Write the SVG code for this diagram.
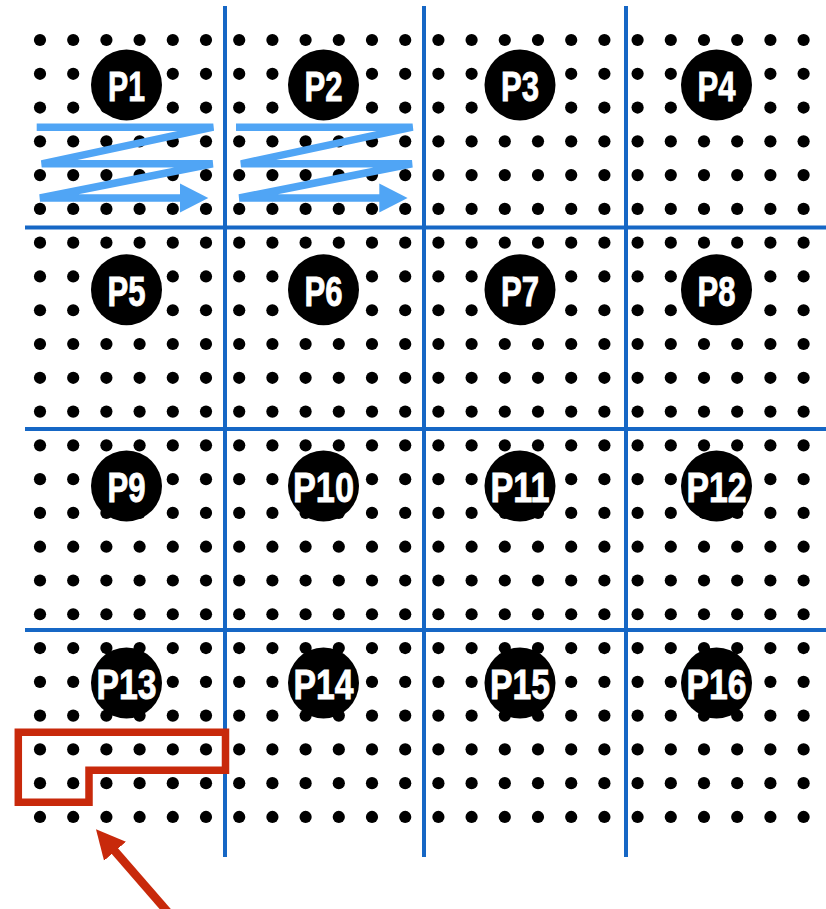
<svg xmlns="http://www.w3.org/2000/svg" xmlns:xlink="http://www.w3.org/1999/xlink" width="826" height="909" viewBox="0 0 826 909">
<style>
.dot{fill:#000}
.grid{stroke:#1667c5;stroke-width:4;fill:none}
.lbl circle{fill:#000}
.lbl text{fill:#fff;stroke:#fff;stroke-width:0.9;font-family:"Liberation Sans",Arial,sans-serif;font-weight:bold;font-size:42px;text-anchor:middle}
.zig{fill:none;stroke:#50a5f5;stroke-width:7.5;stroke-linejoin:miter;stroke-linecap:butt;marker-end:url(#blueHead)}
.red{fill:none;stroke:#c8290b;stroke-width:7.5;stroke-linejoin:miter}
.redArrow{stroke:#c8290b;stroke-width:8.5;marker-end:url(#redHead)}
</style>
<defs>
<marker id="blueHead" viewBox="0 -15 30 30" markerWidth="30" markerHeight="30" refX="2" refY="0" orient="auto" markerUnits="userSpaceOnUse">
<path d="M0,-14.5 L28.3,0 L0,14.5 Z" fill="#50a5f5"/>
</marker>
<marker id="redHead" viewBox="0 -15 30 30" markerWidth="30" markerHeight="30" refX="2" refY="0" orient="auto" markerUnits="userSpaceOnUse">
<path d="M0,-14.5 L29,0 L0,14.5 Z" fill="#c8290b"/>
</marker>
<g id="row" class="dot">
<circle cx="40" cy="0" r="6.1"/><circle cx="73.2" cy="0" r="6.1"/><circle cx="106.4" cy="0" r="6.1"/><circle cx="139.6" cy="0" r="6.1"/><circle cx="172.8" cy="0" r="6.1"/><circle cx="206" cy="0" r="6.1"/>
<circle cx="239.2" cy="0" r="6.1"/><circle cx="272.4" cy="0" r="6.1"/><circle cx="305.6" cy="0" r="6.1"/><circle cx="338.8" cy="0" r="6.1"/><circle cx="372" cy="0" r="6.1"/><circle cx="405.2" cy="0" r="6.1"/>
<circle cx="438.4" cy="0" r="6.1"/><circle cx="471.6" cy="0" r="6.1"/><circle cx="504.8" cy="0" r="6.1"/><circle cx="538" cy="0" r="6.1"/><circle cx="571.2" cy="0" r="6.1"/><circle cx="604.4" cy="0" r="6.1"/>
<circle cx="637.6" cy="0" r="6.1"/><circle cx="670.8" cy="0" r="6.1"/><circle cx="704" cy="0" r="6.1"/><circle cx="737.2" cy="0" r="6.1"/><circle cx="770.4" cy="0" r="6.1"/><circle cx="803.6" cy="0" r="6.1"/>
</g>
</defs>
<rect width="826" height="909" fill="#fff"/>
<g id="dots">
<use xlink:href="#row" y="40"/><use xlink:href="#row" y="73.78"/><use xlink:href="#row" y="107.56"/><use xlink:href="#row" y="141.34"/><use xlink:href="#row" y="175.12"/><use xlink:href="#row" y="208.9"/>
<use xlink:href="#row" y="242.68"/><use xlink:href="#row" y="276.46"/><use xlink:href="#row" y="310.24"/><use xlink:href="#row" y="344.02"/><use xlink:href="#row" y="377.8"/><use xlink:href="#row" y="411.58"/>
<use xlink:href="#row" y="445.36"/><use xlink:href="#row" y="479.14"/><use xlink:href="#row" y="512.92"/><use xlink:href="#row" y="546.7"/><use xlink:href="#row" y="580.48"/><use xlink:href="#row" y="614.26"/>
<use xlink:href="#row" y="648.04"/><use xlink:href="#row" y="681.82"/><use xlink:href="#row" y="715.6"/><use xlink:href="#row" y="749.38"/><use xlink:href="#row" y="783.16"/><use xlink:href="#row" y="816.94"/>
</g>
<g id="gridlines" class="grid">
<line x1="225" y1="6" x2="225" y2="857"/>
<line x1="424" y1="6" x2="424" y2="857"/>
<line x1="626" y1="6" x2="626" y2="857"/>
<line x1="25" y1="227.5" x2="826" y2="227.5"/>
<line x1="25" y1="429" x2="826" y2="429"/>
<line x1="25" y1="630" x2="826" y2="630"/>
</g>
<g id="P1" class="lbl"><circle cx="126.5" cy="85" r="35.5"/><text x="126.5" y="101" textLength="37" lengthAdjust="spacingAndGlyphs">P1</text></g>
<g id="P2" class="lbl"><circle cx="323.5" cy="85" r="35.5"/><text x="323.5" y="101" textLength="38" lengthAdjust="spacingAndGlyphs">P2</text></g>
<g id="P3" class="lbl"><circle cx="520" cy="85" r="35.5"/><text x="520" y="101" textLength="38" lengthAdjust="spacingAndGlyphs">P3</text></g>
<g id="P4" class="lbl"><circle cx="716.5" cy="85" r="35.5"/><text x="716.5" y="101" textLength="38" lengthAdjust="spacingAndGlyphs">P4</text></g>
<g id="P5" class="lbl"><circle cx="126.5" cy="289.7" r="35.5"/><text x="126.5" y="305.7" textLength="38" lengthAdjust="spacingAndGlyphs">P5</text></g>
<g id="P6" class="lbl"><circle cx="323.5" cy="289.7" r="35.5"/><text x="323.5" y="305.7" textLength="38" lengthAdjust="spacingAndGlyphs">P6</text></g>
<g id="P7" class="lbl"><circle cx="520" cy="289.7" r="35.5"/><text x="520" y="305.7" textLength="38" lengthAdjust="spacingAndGlyphs">P7</text></g>
<g id="P8" class="lbl"><circle cx="716.5" cy="289.7" r="35.5"/><text x="716.5" y="305.7" textLength="38" lengthAdjust="spacingAndGlyphs">P8</text></g>
<g id="P9" class="lbl"><circle cx="126.5" cy="486" r="35.5"/><text x="126.5" y="502" textLength="38" lengthAdjust="spacingAndGlyphs">P9</text></g>
<g id="P10" class="lbl"><circle cx="323.5" cy="486" r="35.5"/><text x="323.5" y="502" textLength="61" lengthAdjust="spacingAndGlyphs">P10</text></g>
<g id="P11" class="lbl"><circle cx="520" cy="486" r="35.5"/><text x="520" y="502" textLength="59" lengthAdjust="spacingAndGlyphs">P11</text></g>
<g id="P12" class="lbl"><circle cx="716.5" cy="486" r="35.5"/><text x="716.5" y="502" textLength="60" lengthAdjust="spacingAndGlyphs">P12</text></g>
<g id="P13" class="lbl"><circle cx="126.5" cy="683" r="35.5"/><text x="126.5" y="699" textLength="60" lengthAdjust="spacingAndGlyphs">P13</text></g>
<g id="P14" class="lbl"><circle cx="323.5" cy="683" r="35.5"/><text x="323.5" y="699" textLength="60" lengthAdjust="spacingAndGlyphs">P14</text></g>
<g id="P15" class="lbl"><circle cx="520" cy="683" r="35.5"/><text x="520" y="699" textLength="60" lengthAdjust="spacingAndGlyphs">P15</text></g>
<g id="P16" class="lbl"><circle cx="716.5" cy="683" r="35.5"/><text x="716.5" y="699" textLength="60" lengthAdjust="spacingAndGlyphs">P16</text></g>
<g id="connectors">
<polyline class="zig" points="36.7,127.2 213.3,127.2 41.7,163.8 212.7,163.8 40,198 182,198"/>
<polyline class="zig" transform="translate(199.3,0)" points="36.7,127.2 213.3,127.2 41.7,163.8 212.7,163.8 40,198 182,198"/>
<path class="red" d="M18.3,732.2 H225.5 V770.3 H89 V802.2 H18.3 Z"/>
<line class="redArrow" x1="173" y1="918" x2="113.7" y2="849.7"/>
</g>
</svg>
